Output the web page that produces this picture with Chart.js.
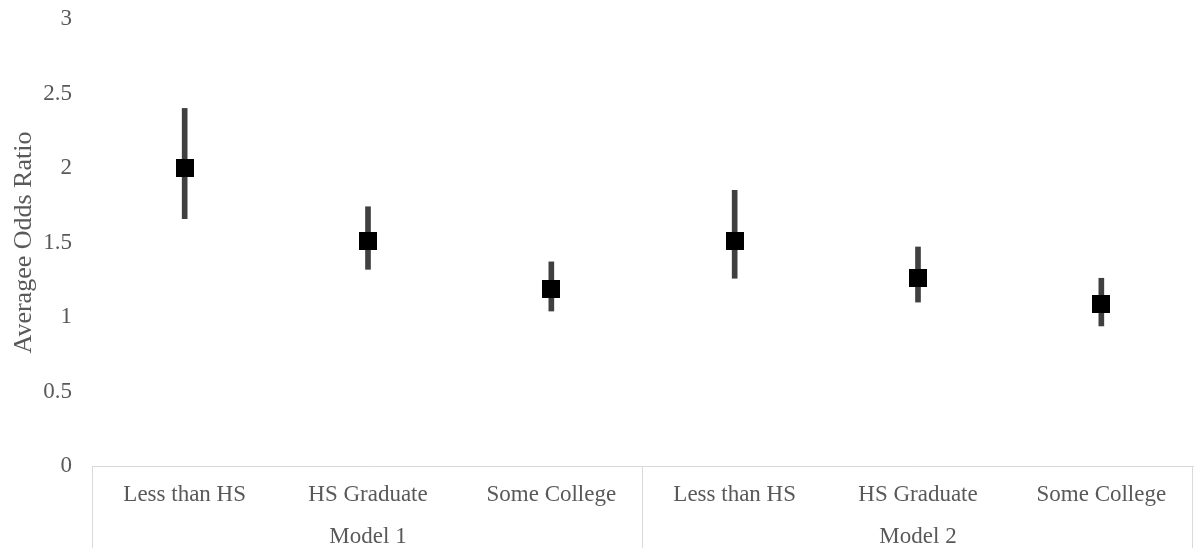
<!DOCTYPE html>
<html>
<head>
<meta charset="utf-8">
<script src="https://cdn.jsdelivr.net/npm/chart.js@4"></script>
<style>
  html, body { margin: 0; padding: 0; background: #fff; }
  #wrap { width: 1194px; height: 548px; }
</style>
</head>
<body>
<div id="wrap"><canvas id="c" width="1194" height="548"></canvas></div>
<script>
const categories = ['Less than HS', 'HS Graduate', 'Some College', 'Less than HS', 'HS Graduate', 'Some College'];
const groups = ['Model 1', 'Model 2'];
const oddsRatio = [2.00, 1.51, 1.19, 1.51, 1.26, 1.09];
const lowerCI = [1.66, 1.32, 1.04, 1.26, 1.10, 0.94];
const upperCI = [2.40, 1.74, 1.37, 1.85, 1.47, 1.26];
const yTicks = [0, 0.5, 1, 1.5, 2, 2.5, 3];

const FONT = 'Liberation Serif, Times New Roman, serif';
const TEXT = '#595959';
const LINE = '#d9d9d9';

const labels = categories.map((c, i) => {
  const g = Math.floor(i / 3);
  return (i % 3 === 1) ? [c, groups[g]] : [c, ''];
});

// square marker image
const marker = document.createElement('canvas');
marker.width = 18; marker.height = 18;
(function () {
  const m = marker.getContext('2d');
  m.fillStyle = '#000000';
  m.fillRect(0, 0, 18, 18);
})();

const separators = {
  id: 'separators',
  afterDraw(chart) {
    const x = chart.scales.x;
    const ctx = chart.ctx;
    const top = chart.chartArea.bottom;
    const bottom = chart.height;
    const n = categories.length;
    const step = (x.getPixelForValue(1) - x.getPixelForValue(0));
    const xs = [x.getPixelForValue(0) - step / 2, x.getPixelForValue(2) + step / 2, x.getPixelForValue(n - 1) + step / 2];
    ctx.save();
    ctx.strokeStyle = LINE;
    ctx.lineWidth = 1;
    xs.forEach(px => {
      const p = Math.round(px) - 0.5;
      ctx.beginPath();
      ctx.moveTo(p, top);
      ctx.lineTo(p, bottom);
      ctx.stroke();
    });
    ctx.restore();
  }
};

new Chart(document.getElementById('c'), {
  data: {
    labels: labels,
    datasets: [
      {
        type: 'line',
        data: oddsRatio,
        showLine: false,
        pointStyle: marker,
        pointRadius: 1,
        pointHoverRadius: 1,
        pointBorderWidth: 0,
        order: 0
      },
      {
        type: 'bar',
        data: lowerCI.map((l, i) => [l, upperCI[i]]),
        backgroundColor: '#404040',
        barThickness: 5,
        borderWidth: 0,
        order: 1
      }
    ]
  },
  options: {
    responsive: false,
    animation: false,
    events: [],
    layout: { padding: { top: 19, right: 1, left: 0, bottom: 0 } },
    plugins: { legend: { display: false }, tooltip: { enabled: false } },
    scales: {
      x: {
        type: 'category',
        offset: true,
        grid: { display: false, drawTicks: false },
        border: { display: true, color: LINE, width: 1 },
        ticks: { font: { family: FONT, size: 23, lineHeight: 1.83 }, color: TEXT, padding: 8, maxRotation: 0, autoSkip: false },
        afterFit(scale) { scale.height = 82; scale.paddingLeft = 0; scale.paddingRight = 0; }
      },
      y: {
        min: 0, max: 3,
        afterBuildTicks(scale) { scale.ticks = yTicks.map(v => ({ value: v })); },
        grid: { display: false, drawTicks: false },
        border: { display: false },
        ticks: { font: { family: FONT, size: 23 }, color: TEXT, padding: 21, callback: v => String(v) },
        title: { display: true, text: 'Averagee Odds Ratio', font: { family: FONT, size: 26 }, color: TEXT, padding: { top: 9, bottom: 0 } },
        afterFit(scale) { scale.width = 93; scale.paddingTop = 0; scale.paddingBottom = 0; }
      }
    }
  },
  plugins: [separators]
});
</script>
</body>
</html>
